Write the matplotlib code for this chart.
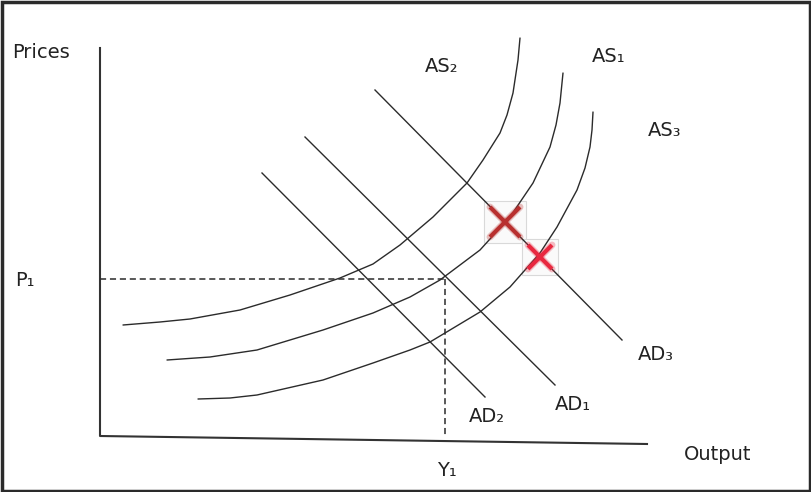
import matplotlib.pyplot as plt
from matplotlib.patches import Rectangle

# everything is in pixel coordinates of the 811x492 picture (y grows downward)
as2_x = [123, 160, 190, 240, 290, 340, 373, 400, 433, 467, 483, 500, 507, 513, 518, 520]
as2_y = [325, 322, 319, 310, 295, 278, 264, 245, 217, 183, 160, 133, 115, 93, 60, 38]
as1_x = [167, 210, 257, 323, 373, 410, 440, 480, 510, 533, 550, 556, 560, 563]
as1_y = [360, 357, 350, 330, 313, 297, 280, 250, 217, 183, 147, 125, 103, 73]
as3_x = [198, 230, 257, 323, 373, 410, 430, 480, 510, 540, 557, 577, 585, 590, 592, 593]
as3_y = [399, 398, 395, 380, 363, 350, 342, 312, 287, 253, 227, 190, 168, 147, 130, 112]

ad2 = [(262, 173), (485, 397)]
ad1 = [(305, 137), (555, 385)]
ad3 = [(375, 90), (622, 340)]

axis_pts = [(100, 48), (100, 436), (647, 444)]
p1_y = 279
y1_x = 445

cross_x = [505, 540]
cross_y = [222, 257]
cross_size = [15, 12]
cross_col = ["#b8302f", "#e8283f"]

labels = {
    "Prices": (41, 52), "Output": (718, 455), "P₁": (25, 281), "Y₁": (447, 471),
    "AS₂": (442, 67), "AS₁": (609, 56), "AS₃": (665, 130),
    "AD₁": (573, 405), "AD₂": (487, 417), "AD₃": (656, 354),
}

fig = plt.figure(figsize=(8.11, 4.92), dpi=100)
ax = fig.add_axes([0, 0, 1, 1])
ax.set_xlim(0, 811)
ax.set_ylim(492, 0)
ax.axis("off")

line_col = "#2b2b2b"

# axes
ax.plot([p[0] for p in axis_pts], [p[1] for p in axis_pts], color="#333333", lw=1.5)

# dashed guides
ax.plot([100, y1_x], [p1_y, p1_y], color=line_col, lw=1.1, ls=(0, (4, 2.5)))
ax.plot([y1_x, y1_x], [p1_y, 436], color=line_col, lw=1.1, ls=(0, (4, 2.5)))

# supply curves
for xs, ys in [(as2_x, as2_y), (as1_x, as1_y), (as3_x, as3_y)]:
    ax.plot(xs, ys, color=line_col, lw=1.0, solid_joinstyle="round", solid_capstyle="round")

# demand lines
for seg in [ad2, ad1, ad3]:
    ax.plot([seg[0][0], seg[1][0]], [seg[0][1], seg[1][1]], color=line_col, lw=1.0)

# red crosses with faint boxes
for cx, cy, s, c in zip(cross_x, cross_y, cross_size, cross_col):
    b = s + 6
    ax.add_patch(Rectangle((cx - b, cy - b), 2 * b, 2 * b, facecolor="#fafafa",
                           edgecolor="#d9d9d9", lw=0.8, zorder=1))
    for dx in (1, -1):
        ax.plot([cx - s, cx + s], [cy - dx * s, cy + dx * s], color=c, lw=5,
                alpha=0.3, solid_capstyle="round", zorder=4)
        ax.plot([cx - s, cx + s], [cy - dx * s, cy + dx * s], color=c, lw=3,
                solid_capstyle="butt", zorder=5)

for txt, (x, y) in labels.items():
    ax.text(x, y, txt, ha="center", va="center", fontsize=14, color="#222222",
            family="DejaVu Sans")

# picture frame
ax.add_patch(Rectangle((1.5, 1.5), 808, 489, fill=False, edgecolor="#2a2a2a", lw=2.5))

fig.savefig("out.png", dpi=100)
